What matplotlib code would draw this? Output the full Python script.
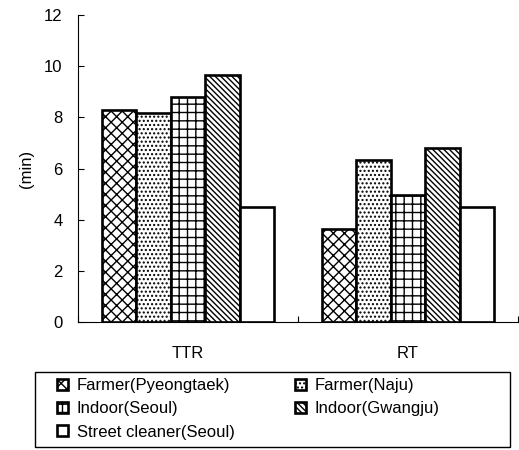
import numpy as np
import matplotlib
matplotlib.use('Agg')
import matplotlib.pyplot as plt
from matplotlib.patches import Rectangle

plt.rcParams['font.family'] = ['Liberation Sans', 'DejaVu Sans']
plt.rcParams['hatch.linewidth'] = 1.0

groups = ['TTR', 'RT']
series = ['Farmer(Pyeongtaek)', 'Farmer(Naju)', 'Indoor(Seoul)',
          'Indoor(Gwangju)', 'Street cleaner(Seoul)']
farmer_pyeongtaek = [8.3, 3.65]
farmer_naju = [8.15, 6.35]
indoor_seoul = [8.8, 4.95]
indoor_gwangju = [9.65, 6.8]
street_cleaner = [4.5, 4.5]
values = [farmer_pyeongtaek, farmer_naju, indoor_seoul, indoor_gwangju, street_cleaner]
hatches = ['xxx', '....', '++', '\\' * 6, '']

fig = plt.figure(figsize=(5.19, 4.5), dpi=100)
ax = fig.add_axes([0.150, 0.284, 0.848, 0.683])

x = np.arange(len(groups))
w = 0.157
bars = []
for i, (name, vals) in enumerate(zip(series, values)):
    b = ax.bar(x + (i - 2) * w, vals, w, color='white', edgecolor='black',
               linewidth=1.9, hatch=hatches[i], label=name)
    bars.append(b)

ax.set_xlim(-0.5, 1.5)
ax.set_ylim(0, 12)
ax.set_yticks(range(0, 13, 2))
ax.set_xticks([-0.5, 0.5, 1.5])
ax.set_xticklabels([])
ax.set_xticks(x, minor=True)
ax.set_xticklabels(groups, minor=True, fontsize=12)
ax.tick_params(axis='x', which='major', direction='in', length=4)
ax.tick_params(axis='x', which='minor', length=0, pad=17)
ax.tick_params(axis='y', direction='in', length=4, pad=11, labelsize=12)
ax.spines['top'].set_visible(False)
ax.spines['right'].set_visible(False)
ax.set_ylabel('(min)', fontsize=12)
ax.yaxis.set_label_coords(-0.10, 0.5)

# legend box drawn separately so the columns can sit where the original has them
fig.patches.append(Rectangle((35 / 519, 3 / 450), 475 / 519, 75 / 450,
                             transform=fig.transFigure, fill=False,
                             edgecolor='black', linewidth=1.0))
order = [0, 2, 4, 1, 3]
leg = fig.legend([bars[i] for i in order], [series[i] for i in order],
                 ncol=2, loc='upper left', bbox_to_anchor=(57 / 519, 1 - 378 / 450),
                 fontsize=12, frameon=False, handlelength=0.65, handleheight=0.65,
                 handletextpad=0.55, labelspacing=0.5, columnspacing=3.6,
                 borderpad=0, borderaxespad=0)

fig.savefig('out.png', dpi=100)
